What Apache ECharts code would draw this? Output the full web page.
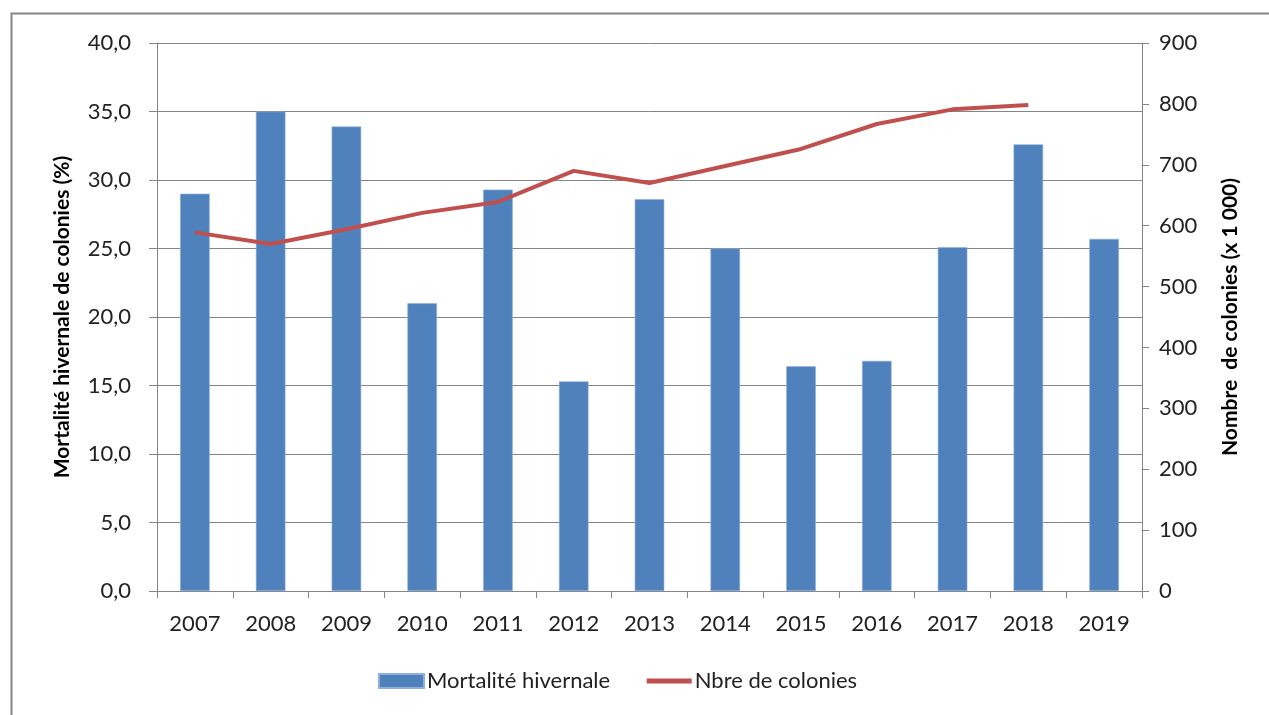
<!DOCTYPE html>
<html>
<head>
<meta charset="utf-8">
<script src="https://cdn.jsdelivr.net/npm/echarts@6/dist/echarts.min.js"></script>
<style>
  html, body { margin: 0; padding: 0; background: #fff; }
  #chart { width: 1269px; height: 715px; }
</style>
</head>
<body>
<div id="chart"></div>
<script>
// annees
var annees = ['2007', '2008', '2009', '2010', '2011', '2012', '2013', '2014', '2015', '2016', '2017', '2018', '2019'];
// mortalite hivernale (%)
var mortalite = [29.0, 35.0, 33.9, 21.0, 29.3, 15.3, 28.6, 25.0, 16.4, 16.8, 25.1, 32.6, 25.7];
// nombre de colonies (x 1 000), pas de valeur pour 2019
var colonies = [589, 570, 594, 621, 639, 690, 670, 698, 726, 767, 791, 798, null];

var police = 'Lato, "Liberation Sans", sans-serif';
var myChart = echarts.init(document.getElementById('chart'));

var option = {
    animation: false,
    backgroundColor: '#fff',
    textStyle: { fontFamily: police },
    graphic: [{
        type: 'rect',
        shape: { x: 11.5, y: 13.5, width: 1300, height: 750 },
        style: { fill: 'none', stroke: '#868686', lineWidth: 2 },
        silent: true
    }],
    grid: { left: 157, right: 127, top: 43, bottom: 124 },
    legend: {
        bottom: 18,
        left: 373,
        itemWidth: 45,
        itemHeight: 14,
        itemGap: 34,
        textStyle: { fontFamily: police, fontSize: 22, color: '#222', padding: [0, 0, 0, -2] },
        data: [
            { name: 'Mortalité hivernale', icon: 'rect' },
            { name: 'Nbre de colonies', itemStyle: { opacity: 0 }, lineStyle: { width: 5, color: '#C0504D' } }
        ]
    },
    xAxis: [{
        type: 'category',
        data: annees,
        boundaryGap: true,
        axisLine: { lineStyle: { color: '#868686', width: 1 } },
        axisTick: { show: true, alignWithLabel: false, length: 7, lineStyle: { color: '#868686' } },
        axisLabel: { fontFamily: police, fontSize: 22, color: '#222', margin: 22 }
    }],
    yAxis: [{
        type: 'value',
        min: 0,
        max: 40,
        interval: 5,
        name: 'Mortalité hivernale de colonies (%)',
        nameLocation: 'middle',
        nameRotate: 90,
        nameGap: 84,
        nameTextStyle: { fontFamily: police, fontSize: 21, fontWeight: 'bold', color: '#000' },
        axisLine: { show: true, lineStyle: { color: '#868686' } },
        axisTick: { show: true, length: 8, lineStyle: { color: '#868686' } },
        splitLine: { show: true, lineStyle: { color: '#868686', width: 1 } },
        axisLabel: {
            fontFamily: police, fontSize: 22, color: '#222', margin: 26,
            formatter: function (v) { return v.toFixed(1).replace('.', ','); }
        }
    }, {
        type: 'value',
        min: 0,
        max: 900,
        interval: 100,
        position: 'right',
        name: 'Nombre  de colonies (x 1 000)',
        nameLocation: 'middle',
        nameRotate: 90,
        nameGap: 78,
        nameTextStyle: { fontFamily: police, fontSize: 21, fontWeight: 'bold', color: '#000' },
        axisLine: { show: true, lineStyle: { color: '#868686' } },
        axisTick: { show: true, length: 7, lineStyle: { color: '#868686' } },
        splitLine: { show: false },
        axisLabel: { fontFamily: police, fontSize: 22, color: '#222', margin: 17 }
    }],
    series: [{
        name: 'Mortalité hivernale',
        type: 'bar',
        yAxisIndex: 0,
        barWidth: '39%',
        itemStyle: { color: '#4F81BD', borderColor: '#8FB0DA', borderWidth: 0.6 },
        data: mortalite
    }, {
        name: 'Nbre de colonies',
        type: 'line',
        yAxisIndex: 1,
        symbol: 'none',
        lineStyle: { color: '#C0504D', width: 4 },
        itemStyle: { color: '#C0504D' },
        data: colonies
    }]
};

myChart.setOption(option);
</script>
</body>
</html>
